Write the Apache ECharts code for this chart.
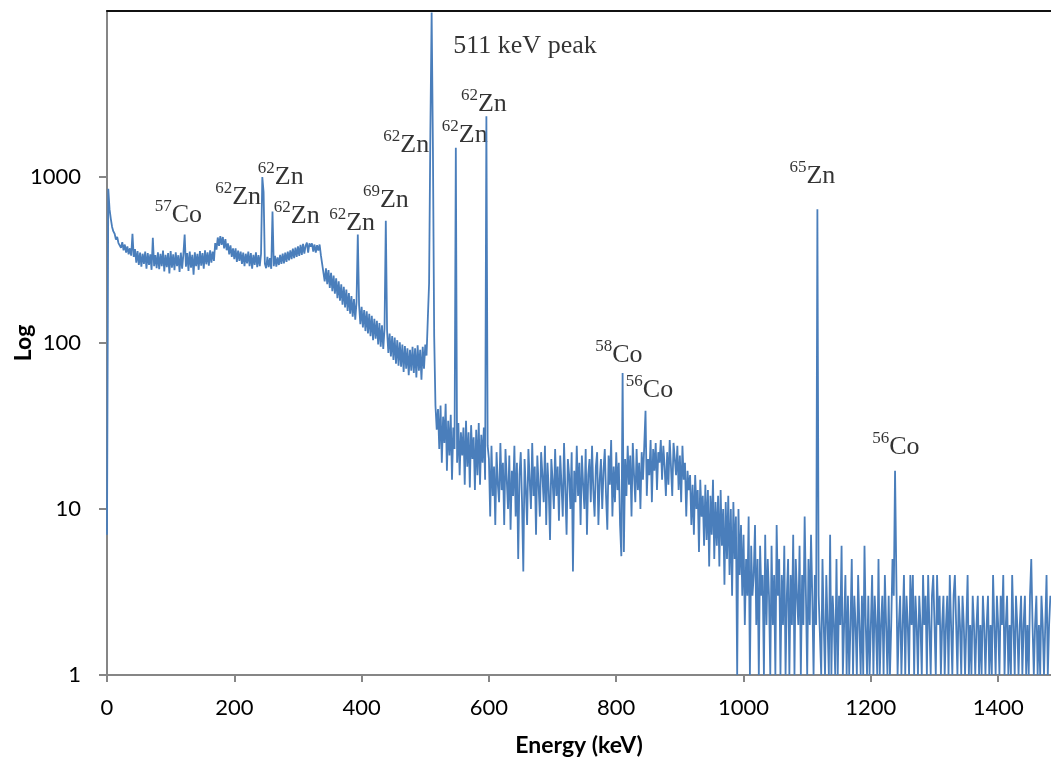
<!DOCTYPE html>
<html>
<head>
<meta charset="utf-8">
<script src="https://cdn.jsdelivr.net/npm/echarts@6/dist/echarts.min.js"></script>
<style>
  html, body { margin: 0; padding: 0; background: #fff; }
  #chart { width: 1051px; height: 762px; }
</style>
</head>
<body>
<div id="chart"></div>
<script>
// gamma spectrum, one reading every 2 keV (counts)
const STEP_KEV = 2;

// 0 - 338 keV
const countsFrom0 = [
  7, 850, 640, 560, 500, 470, 455, 420, 435, 400,
  410, 375, 405, 362, 392, 350, 382, 342, 372, 336,
  455, 330, 368, 305, 358, 295, 350, 288, 345, 300,
  355, 280, 348, 295, 342, 276, 430, 290, 338, 282,
  352, 278, 345, 290, 360, 270, 340, 286, 348, 262,
  358, 284, 342, 275, 352, 290, 338, 268, 350, 280,
  342, 450, 288, 348, 272, 355, 284, 340, 258, 352,
  290, 345, 276, 358, 292, 348, 280, 362, 298, 352,
  292, 362, 305, 355, 312, 400, 365, 432, 385, 440,
  390, 435, 372, 422, 362, 398, 342, 388, 330, 372,
  320, 372, 308, 360, 312, 355, 300, 350, 290, 345,
  302, 355, 290, 348, 280, 340, 295, 352, 286, 338,
  290, 345, 1000, 810, 300, 282, 330, 286, 325, 280,
  620, 290, 335, 288, 328, 295, 340, 300, 345, 302,
  350, 308, 355, 315, 362, 320, 370, 325, 375, 330,
  382, 335, 390, 340, 396, 345, 385, 402, 350, 398,
  380, 398, 355, 392, 350, 388, 360, 392, 338, 300
];

// 340 - 598 keV
const countsFrom340 = [
  292, 235, 282, 226, 275, 215, 265, 205, 255, 198,
  245, 186, 235, 180, 226, 170, 218, 164, 210, 156,
  200, 150, 192, 144, 184, 138, 176, 450, 170, 130,
  165, 124, 158, 118, 155, 114, 150, 110, 146, 104,
  140, 106, 136, 98, 132, 95, 128, 92, 122, 545,
  118, 87, 114, 83, 110, 79, 108, 75, 104, 73,
  101, 72, 98, 67, 96, 70, 93, 64, 91, 68,
  95, 66, 93, 62, 97, 68, 91, 60, 95, 70,
  98, 84, 140, 230, 1880, 9800, 1500, 110, 42, 30,
  40, 23, 42, 19, 36, 25, 43, 17, 34, 21,
  37, 15, 31, 23, 1500, 19, 33, 16, 29, 21,
  31, 14, 34, 18, 29, 13.5, 32, 20, 27, 13,
  30, 16, 33, 14, 28, 19, 31, 15, 2320, 24
];

// 600 - 998 keV
const countsFrom600 = [
  20, 9, 24, 12, 18, 8, 22, 14, 11, 25,
  13, 19, 8, 23, 15, 10, 21, 7.5, 17, 12,
  24, 9, 19, 5, 16, 22, 11, 4.2, 20, 13,
  8, 23, 15, 10, 25, 12, 18, 7, 21, 14,
  9, 22, 16, 11, 24, 8, 19, 13, 6.5, 20,
  15, 10, 23, 12, 18, 8.5, 21, 14, 9, 25,
  13, 7, 20, 16, 10, 22, 4.2, 17, 11, 24,
  12, 19, 8, 21, 14, 10, 23, 7, 16, 20,
  11, 24, 13, 9, 18, 22, 8, 15, 20, 10,
  17, 23, 12, 7.5, 21, 14, 26, 9, 18, 11,
  22, 13, 19, 8, 5.2, 66, 5.5, 20, 12, 24,
  14, 21, 9, 25, 16, 11, 23, 13, 19, 10,
  22, 15, 24, 39, 12, 20, 16, 26, 11, 23,
  17, 25, 13, 22, 19, 26, 15, 24, 18, 12,
  22, 14, 26, 18, 12, 25, 20, 16, 24, 13,
  21, 11, 24, 15, 19, 9, 17, 13, 16, 8,
  14, 7, 16, 10, 13, 5.5, 15, 9, 12, 6,
  14, 6.5, 13, 4.5, 12, 7, 15, 5, 11, 6,
  12, 4.5, 13, 6, 10, 3.5, 11, 5, 12, 4,
  10, 3, 11, 5, 9, 1, 10, 4, 8, 3
];

// 1000 - 1482 keV
const countsFrom1000 = [
  7, 2, 5, 3, 9, 1, 6, 3, 4, 8,
  2, 5, 1, 6, 3, 4, 1, 7, 2, 5,
  3, 1, 6, 2, 4, 1, 8, 3, 5, 1,
  4, 2, 6, 1, 3, 5, 1, 4, 2, 7,
  1, 5, 3, 2, 6, 1, 4, 2, 9, 3,
  1, 5, 2, 7, 3, 1, 4, 2, 640, 3,
  3, 1, 5, 2, 1, 4, 2, 1, 7, 1,
  3, 2, 1, 5, 1, 3, 2, 6, 1, 2,
  4, 1, 3, 1, 2, 5, 1, 3, 2, 1,
  4, 2, 1, 3, 1, 6, 2, 1, 3, 1,
  2, 4, 1, 3, 2, 1, 5, 1, 2, 3,
  1, 4, 2, 1, 3, 1, 2, 5, 3, 17,
  4, 1, 2, 3, 1, 2, 4, 1, 3, 2,
  1, 4, 2, 4, 1, 3, 2, 1, 3, 2,
  1, 4, 2, 3, 1, 4, 2, 1, 3, 4,
  2, 1, 4, 2, 3, 1, 2, 3, 1, 2,
  3, 1, 4, 2, 1, 3, 4, 2, 1, 3,
  2, 1, 3, 2, 1, 2, 4, 1, 2, 1,
  3, 2, 1, 2, 3, 1, 2, 1, 3, 2,
  1, 2, 3, 1, 2, 1, 4, 2, 1, 3,
  2, 1, 3, 2, 4, 1, 2, 3, 1, 2,
  1, 4, 2, 1, 3, 2, 1, 2, 3, 1,
  2, 3, 1, 2, 1, 3, 5, 2, 1, 2,
  3, 1, 2, 1, 3, 2, 1, 2, 4, 1,
  2, 3
];

// peak labels: mass number, element, and where the label sits [keV, counts]
const labelMass = ['57', '62', '62', '62', '62', '69', '62', '', '62', '62', '65', '58', '56', '56'];
const labelElem = ['Co', 'Zn', 'Zn', 'Zn', 'Zn', 'Zn', 'Zn', '511 keV peak', 'Zn', 'Zn', 'Zn', 'Co', 'Co', 'Co'];
const labelKeV = [75, 170, 237, 262, 349, 402, 434, 544, 526, 556, 1072, 767, 815, 1202];
const labelCounts = [493, 632, 835, 486, 441, 607, 1301, 5140, 1496, 2297, 847, 70.7, 43.5, 19.7];

const xTicks = { min: 0, max: 1483, interval: 200 };
const yTicks = { min: 1, max: 10000 };

function toPoints(startKeV, counts) {
  return counts.map((c, i) => [startKeV + i * STEP_KEV, c]);
}

const spectrum = []
  .concat(toPoints(0, countsFrom0))
  .concat(toPoints(340, countsFrom340))
  .concat(toPoints(600, countsFrom600))
  .concat(toPoints(1000, countsFrom1000));

const peakLabels = labelElem.map((el, i) => ({
  name: labelMass[i] ? '{sup|' + labelMass[i] + '}{el|' + el + '}' : '{el|' + el + '}',
  value: [labelKeV[i], labelCounts[i]]
}));

const tickFont = { fontFamily: 'Lato', fontSize: 22, color: '#000' };
const axisGray = '#868686';
const titleFont = { fontFamily: 'Lato', fontWeight: 'bold', fontSize: 23, color: '#000' };

const chart = echarts.init(document.getElementById('chart'), null, { renderer: 'canvas' });
chart.setOption({
  animation: false,
  backgroundColor: '#fff',
  grid: { left: 107, right: 0, top: 11, bottom: 87, containLabel: false, outerBoundsMode: 'none' },
  xAxis: [{
    type: 'value',
    min: xTicks.min, max: xTicks.max, interval: xTicks.interval,
    name: 'Energy (keV)',
    nameLocation: 'middle',
    nameGap: 59,
    nameMoveOverlap: false,
    nameTextStyle: titleFont,
    axisLine: { lineStyle: { color: axisGray, width: 2 } },
    axisTick: { length: 7, lineStyle: { color: axisGray, width: 2 } },
    axisLabel: Object.assign({ margin: 22, showMaxLabel: false, formatter: v => String(v) }, tickFont),
    splitLine: { show: false }
  }, {
    type: 'value',
    position: 'top',
    min: xTicks.min, max: xTicks.max,
    axisLine: { lineStyle: { color: '#111', width: 2 } },
    axisTick: { show: false },
    axisLabel: { show: false },
    splitLine: { show: false }
  }],
  yAxis: {
    type: 'log',
    logBase: 10,
    min: yTicks.min, max: yTicks.max,
    name: 'Log',
    nameLocation: 'middle',
    nameGap: 72,
    nameRotate: 90,
    nameMoveOverlap: false,
    nameTextStyle: titleFont,
    axisLine: { show: true, lineStyle: { color: axisGray, width: 2 } },
    axisTick: { show: true, length: 8, lineStyle: { color: axisGray, width: 2 } },
    axisLabel: Object.assign({ margin: 26, showMaxLabel: false, formatter: v => String(Math.round(v)) }, tickFont),
    splitLine: { show: false }
  },
  series: [{
    type: 'line',
    data: spectrum,
    showSymbol: false,
    symbol: 'none',
    lineStyle: { color: '#4a7ebb', width: 1.8 },
    clip: true
  }, {
    type: 'scatter',
    data: peakLabels,
    symbolSize: 0,
    itemStyle: { color: 'rgba(0,0,0,0)' },
    silent: true,
    label: {
      show: true,
      color: '#000',
      position: [0, 0],
      align: 'left',
      verticalAlign: 'bottom',
      formatter: p => p.name,
      rich: {
        sup: { fontFamily: 'Liberation Serif', fontSize: 17, color: '#000', verticalAlign: 'top', lineHeight: 22 },
        el: { fontFamily: 'Liberation Serif', fontSize: 26, color: '#000', verticalAlign: 'bottom', lineHeight: 30 }
      }
    }
  }]
});
</script>
</body>
</html>
